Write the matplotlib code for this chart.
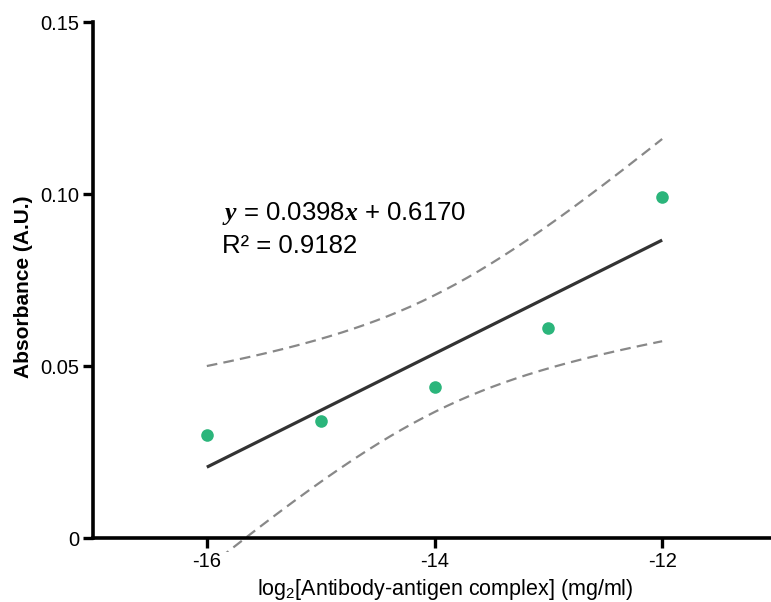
import numpy as np
import matplotlib
matplotlib.use("Agg")
import matplotlib.pyplot as plt

# --- data ---
log_conc = np.array([-16, -15, -14, -13, -12], dtype=float)
absorbance = np.array([0.030, 0.034, 0.044, 0.061, 0.099])
x_ticks = [-16, -14, -12]
y_ticks = [0, 0.05, 0.10, 0.15]
y_tick_labels = ["0", "0.05", "0.10", "0.15"]
eq_text = r"$y$ = 0.0398$x$ + 0.6170"
r2_text = "R² = 0.9182"

plt.rcParams["font.family"] = ["Liberation Sans", "DejaVu Sans"]
plt.rcParams["mathtext.fontset"] = "custom"
plt.rcParams["mathtext.it"] = "Liberation Serif:italic:bold"
plt.rcParams["mathtext.rm"] = "Liberation Sans"

# --- linear fit + 95% confidence band ---
slope, intercept = np.polyfit(log_conc, absorbance, 1)
n = len(log_conc)
resid = absorbance - (slope * log_conc + intercept)
s = np.sqrt(np.sum(resid ** 2) / (n - 2))
t_crit = 3.182  # t(0.975, df=3)
xm = log_conc.mean()
sxx = np.sum((log_conc - xm) ** 2)
xf = np.linspace(log_conc.min(), log_conc.max(), 200)
yf = slope * xf + intercept
half = t_crit * s * np.sqrt(1 / n + (xf - xm) ** 2 / sxx)

fig = plt.figure(figsize=(7.71, 6.02), dpi=100)
ax = fig.add_axes([93 / 771, 50.2 / 602, (776 - 93) / 771, 529.8 / 602])

ax.plot(xf, yf + half, ls=(0, (4.8, 2.8)), color="#888888", lw=1.6)
ax.plot(xf, yf - half, ls=(0, (4.8, 2.8)), color="#888888", lw=1.6)
ax.plot(xf, yf, color="#333333", lw=2.3, solid_capstyle="butt")
ax.scatter(log_conc, absorbance, s=82, color="#2bb57b", zorder=3, linewidths=0)

ax.set_xlim(-17, -11)
ax.set_ylim(-0.004, 0.15)
ax.spines["top"].set_visible(False)
ax.spines["right"].set_visible(False)
ax.spines["bottom"].set_position(("data", 0))
ax.spines["left"].set_bounds(0, 0.15)
for sp in ("left", "bottom"):
    ax.spines[sp].set_linewidth(2.6)

ax.set_xticks(x_ticks)
ax.set_xticklabels([str(v) for v in x_ticks])
ax.set_yticks(y_ticks)
ax.set_yticklabels(y_tick_labels)
ax.tick_params(direction="out", length=7, width=2.4, labelsize=14.5, pad=3)

ax.set_xlabel("log$_2$[Antibody-antigen complex] (mg/ml)", fontsize=15.5)
ax.set_ylabel("Absorbance (A.U.)", fontsize=15, fontweight="bold")
ax.xaxis.set_label_coords(0.516, -0.047)
ax.yaxis.set_label_coords(-0.088, 0.50)

ax.text(-15.87, 0.0924, eq_text, fontsize=18.5, va="baseline", ha="left")
ax.text(-15.87, 0.0829, r2_text, fontsize=18.5, va="baseline", ha="left")

fig.savefig("out.png", dpi=100)
